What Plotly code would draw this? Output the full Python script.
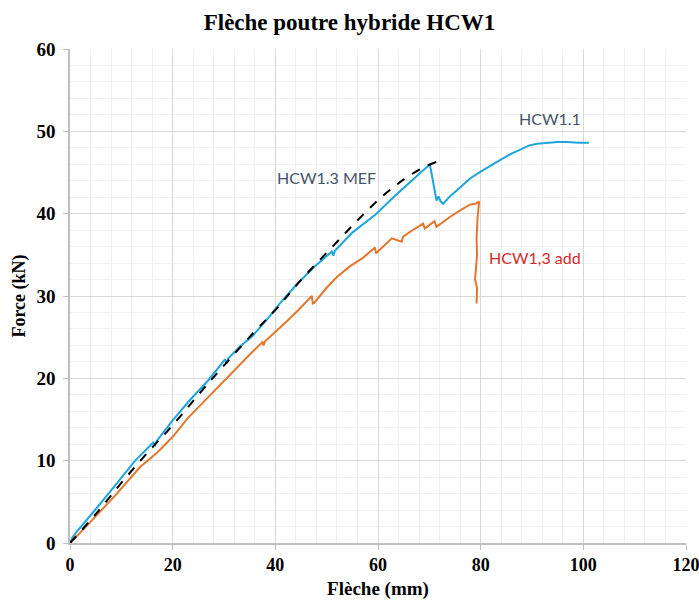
import plotly.graph_objects as go

# HCW1.1 (essai)
x_hcw11 = [0, 0.5, 1.2, 3, 5, 7.5, 10, 12.7, 16.2, 16.6, 16.9, 20, 23.4, 27, 30.2, 30.5, 30.8,
           33, 35.5, 38.6, 40.9, 44, 47.5, 51.0, 51.3, 51.6, 55, 59.7, 63, 66.5, 70.1,
           71.4, 71.8, 72.2, 72.7, 74, 76, 78, 80, 82, 84, 86, 88, 89.5, 91, 93, 95, 97, 99, 101.1]
f_hcw11 = [0, 0.7, 1.3, 2.6, 4.1, 6.0, 7.9, 10.0, 12.2, 11.9, 12.4, 14.9, 17.4, 19.8, 22.3, 21.8, 22.4,
           23.8, 25.1, 27.3, 29.1, 31.3, 33.5, 35.4, 34.9, 35.5, 37.7, 40.0, 42.0, 44.0, 46.0,
           41.6, 42.1, 41.5, 41.2, 42.1, 43.2, 44.3, 45.1, 45.9, 46.6, 47.3, 47.9, 48.3, 48.5, 48.6, 48.7, 48.7, 48.6, 48.6]

# HCW1.3 MEF (modèle)
x_mef = [0, 5, 10, 15, 20, 25, 29.2, 35.7, 40.3, 44.8, 51.6, 56.5, 61, 64.9, 68.8, 71.8, 72.6]
f_mef = [0, 3.5, 7.3, 10.9, 14.3, 18.0, 21.0, 25.5, 28.5, 31.8, 36.3, 39.5, 42.2, 44.1, 45.6, 46.4, 46.6]

# HCW1,3 add (essai)
x_add = [0, 1, 3, 6, 9, 13.6, 17, 20, 23, 26.6, 30, 33, 35.5, 37.5, 37.7, 38.0, 40, 42.2, 44.5,
         47.1, 47.3, 47.6, 50, 52, 54.5, 57, 59.4, 59.6, 60.5, 62.7, 64.6, 64.9, 66.5, 68.8, 69.1,
         71.0, 71.4, 73, 74, 76, 77.9, 79.0, 79.7, 79.4, 79.2, 79.3, 79.0, 78.9, 79.3, 79.2]
f_add = [0, 0.6, 1.9, 3.9, 5.9, 9.2, 11.0, 12.9, 15.2, 17.5, 19.7, 21.7, 23.2, 24.4, 24.0, 24.5, 25.6,
         26.9, 28.3, 30.0, 29.1, 29.2, 31.0, 32.3, 33.6, 34.6, 35.9, 35.2, 35.7, 37.0, 36.6, 37.2, 37.9,
         38.8, 38.2, 39.1, 38.4, 39.2, 39.6, 40.4, 41.1, 41.2, 41.5, 39.5, 37.0, 35.0, 33.0, 32.0, 31.0, 29.1]

x_ticks = [0, 20, 40, 60, 80, 100, 120]
y_ticks = [0, 10, 20, 30, 40, 50, 60]

fig = go.Figure()
fig.add_trace(go.Scatter(x=x_hcw11, y=f_hcw11, mode="lines", name="HCW1.1",
                         line=dict(color="#1EA5DC", width=2)))
fig.add_trace(go.Scatter(x=x_add, y=f_add, mode="lines", name="HCW1,3 add",
                         line=dict(color="#E2782F", width=2)))
fig.add_trace(go.Scatter(x=x_mef, y=f_mef, mode="lines", name="HCW1.3 MEF",
                         line=dict(color="#000000", width=2, dash="dash", shape="spline")))

lbl_font = dict(family="Lato, Open Sans, sans-serif", size=16)
fig.add_annotation(x=93.5, y=51.6, text="HCW1.1", showarrow=False,
                   font=dict(color="#44546A", **lbl_font))
fig.add_annotation(x=50.0, y=44.4, text="HCW1.3 MEF", showarrow=False,
                   font=dict(color="#44546A", **lbl_font))
fig.add_annotation(x=90.5, y=34.7, text="HCW1,3 add", showarrow=False,
                   font=dict(color="#D42A2A", **lbl_font))

W, H = 699, 600
serif = "Liberation Serif, Times New Roman, serif"
fig.update_layout(
    width=W, height=H,
    margin=dict(l=70, r=13, t=49, b=57),
    paper_bgcolor="white", plot_bgcolor="white",
    showlegend=False,
    title=dict(text="<b>Flèche poutre hybride HCW1</b>", x=0.5, xanchor="center",
               y=1 - 22 / H, yanchor="middle", yref="container",
               font=dict(family=serif, size=23, color="#000000")),
    font=dict(family=serif, color="#000000"),
)
fig.update_xaxes(
    range=[0, 120], tickvals=x_ticks, ticktext=[f"<b>{v}</b>" for v in x_ticks],
    tickfont=dict(family=serif, size=18, color="#000"),
    showgrid=True, gridcolor="#D9D9D9", gridwidth=1,
    minor=dict(dtick=4, showgrid=True, gridcolor="#F0F0F0", gridwidth=1),
    showline=True, linecolor="#BFBFBF", linewidth=1.5,
    ticks="outside", ticklen=5, tickcolor="#BFBFBF",
    ticklabelstandoff=0, ticklabeloverflow="allow",
    zeroline=False, automargin=False,
    title=dict(text="<b>Flèche (mm)</b>", font=dict(family=serif, size=19, color="#000"), standoff=9),
)
fig.update_yaxes(
    range=[0, 60], tickvals=y_ticks, ticktext=[f"<b>{v}</b>" for v in y_ticks],
    tickfont=dict(family=serif, size=19, color="#000"),
    showgrid=True, gridcolor="#D9D9D9", gridwidth=1,
    minor=dict(dtick=2, showgrid=True, gridcolor="#F0F0F0", gridwidth=1),
    showline=True, linecolor="#BFBFBF", linewidth=1.5,
    ticks="outside", ticklen=5, tickcolor="#BFBFBF",
    ticklabelstandoff=4, ticklabeloverflow="allow",
    zeroline=False, automargin=False,
    title=dict(text="<b>Force (kN)</b>", font=dict(family=serif, size=18, color="#000"), standoff=6),
)

# remove the default page margin so the 699x600 figure fills the window exactly
fig.write_html("out.html",
               config={"displayModeBar": False},
               post_script="document.body.style.margin='0';document.body.style.overflow='hidden';")
